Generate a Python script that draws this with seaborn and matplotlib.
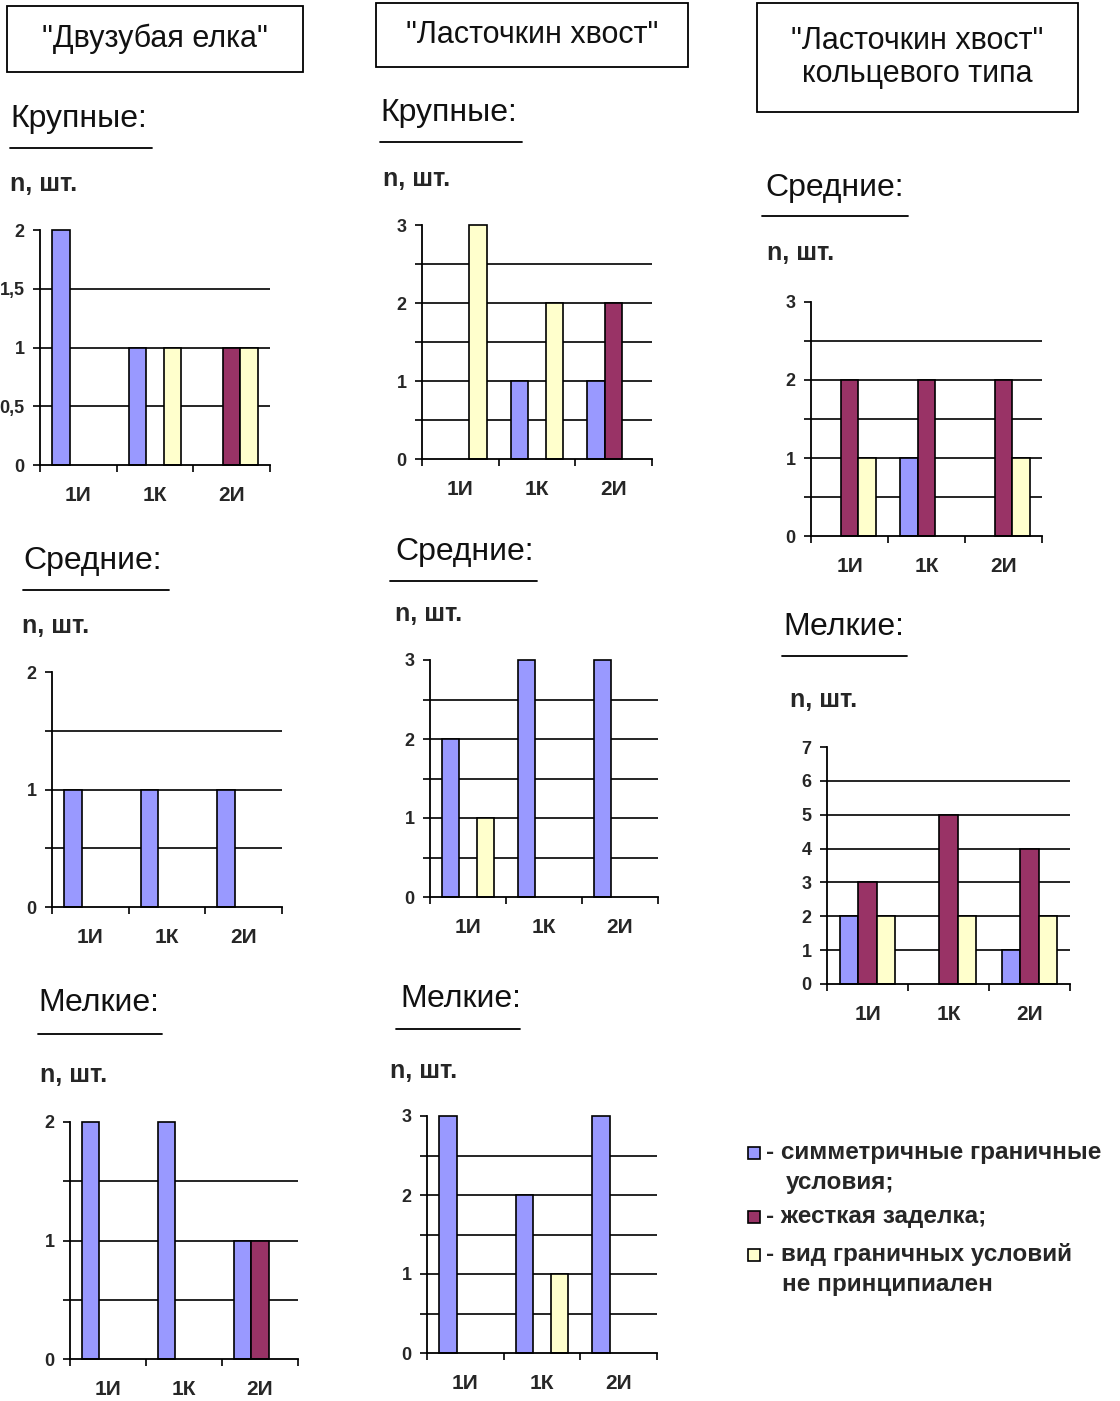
import numpy as np
import pandas as pd
import seaborn as sns
import matplotlib
matplotlib.use('Agg')
import matplotlib.pyplot as plt
from matplotlib.patches import Rectangle
from matplotlib.lines import Line2D
from matplotlib.font_manager import FontProperties

# categories on the x axis and the three kinds of boundary conditions
categories = ['1И', '1К', '2И']
kinds = ['sym', 'rigid', 'free']
kind_colors = {'sym': '#9999FF', 'rigid': '#993366', 'free': '#FFFFCC'}

# each panel: [sym, rigid, free], every list is [1И, 1К, 2И]
elka_large = [[2, 1, 0], [0, 0, 1], [0, 1, 1]]
elka_medium = [[1, 1, 1], [0, 0, 0], [0, 0, 0]]
elka_small = [[2, 2, 1], [0, 0, 1], [0, 0, 0]]
tail_large = [[0, 1, 1], [0, 0, 2], [3, 2, 0]]
tail_medium = [[2, 3, 3], [0, 0, 0], [1, 0, 0]]
tail_small = [[3, 2, 3], [0, 0, 0], [0, 1, 0]]
ring_medium = [[0, 1, 0], [2, 2, 2], [1, 0, 1]]
ring_small = [[2, 0, 1], [3, 5, 4], [2, 2, 2]]

legend_first = ['- симметричные граничные', '- жесткая заделка;', '- вид граничных условий']
legend_second = ['условия;', None, 'не принципиален']

sns.set_theme(style='white')
plt.rcParams['font.family'] = ['Liberation Sans', 'DejaVu Sans']

W, H = 1120, 1401
fig = plt.figure(figsize=(W / 100, H / 100), dpi=100)


def fx(x):
    return x / W


def fy(y):
    return 1 - y / H


tick_x_font = FontProperties(family='Liberation Sans', weight='bold', size=15)
tick_y_font = FontProperties(family='Liberation Sans', weight='bold', size=13)


def to_long(vals):
    rows = []
    for kind, series in zip(kinds, vals):
        for cat, v in zip(categories, series):
            if v > 0:
                rows.append({'cat': cat, 'kind': kind, 'n': v})
    return pd.DataFrame(rows)


def fmt(v):
    return ('%g' % v).replace('.', ',')


def draw_panel(vals, box, ymax, step, label_all=False):
    x0, ytop, x1, y0 = box
    ax = fig.add_axes([fx(x0), fy(y0), (x1 - x0) / W, (y0 - ytop) / H])
    ax.set_facecolor('none')
    sns.barplot(data=to_long(vals), x='cat', y='n', hue='kind', order=categories,
                hue_order=kinds, palette=kind_colors, width=0.69, saturation=1,
                dodge=True, edgecolor='black', linewidth=1.2, errorbar=None,
                legend=False, ax=ax)
    for p in ax.patches:
        p.set_clip_on(False)
        p.set_zorder(2)
    ax.set_xlim(-0.5, 2.5)
    ax.set_ylim(0, ymax)
    ax.set_xlabel('')
    ax.set_ylabel('')

    yt = np.arange(0, ymax + step / 2, step)
    ax.set_yticks(yt)
    ax.set_yticklabels([fmt(v) if (label_all or v == int(v)) else '' for v in yt])
    for v in yt[1:-1]:
        ax.axhline(v, color='black', lw=1.2, zorder=1)

    ax.set_xticks([-0.5, 0.5, 1.5, 2.5])
    ax.set_xticklabels([])
    ax.set_xticks([0, 1, 2], minor=True)
    ax.set_xticklabels(categories, minor=True)
    ax.tick_params(axis='x', which='major', length=5, width=1.2, direction='out',
                   bottom=True, color='black')
    ax.tick_params(axis='x', which='minor', length=0, pad=15, bottom=True)
    ax.tick_params(axis='y', which='major', length=5, width=1.2, direction='out',
                   left=True, pad=6, color='black')
    for lab in ax.get_xticklabels(minor=True):
        lab.set_fontproperties(tick_x_font)
    for lab in ax.get_yticklabels():
        lab.set_fontproperties(tick_y_font)

    for side in ['top', 'right']:
        ax.spines[side].set_visible(False)
    for side in ['left', 'bottom']:
        ax.spines[side].set_color('black')
        ax.spines[side].set_linewidth(1.3)
        ax.spines[side].set_zorder(3)
    return ax


def heading(text, x, y, x0, x1, ly):
    fig.text(fx(x), fy(y), text, fontsize=23, va='center', ha='left', color='#111111')
    fig.add_artist(Line2D([fx(x0), fx(x1)], [fy(ly), fy(ly)], color='black', lw=1.3))


def n_label(x, y):
    fig.text(fx(x), fy(y), 'n, шт.', fontsize=18, fontweight='bold', va='center', ha='left')


def title_box(x0, y0, x1, y1, text):
    fig.add_artist(Rectangle((fx(x0), fy(y1)), (x1 - x0) / W, (y1 - y0) / H, fill=False,
                             ec='black', lw=1.3, transform=fig.transFigure))
    fig.text(fx((x0 + x1) / 2), fy((y0 + y1) / 2), text, ha='center', va='center',
             fontsize=22, linespacing=1.1, color='#111111')


# column 1: "Двузубая елка"
title_box(7, 6, 303, 72, '"Двузубая елка"')
heading('Крупные:', 10, 119, 10, 152, 148)
n_label(10, 184)
draw_panel(elka_large, (40, 230, 270, 465), 2, 0.5, label_all=True)
heading('Средние:', 23, 561, 23, 169, 590)
n_label(22, 626)
draw_panel(elka_medium, (52, 672, 282, 907), 2, 0.5)
heading('Мелкие:', 38, 1003, 38, 162, 1034)
n_label(40, 1075)
draw_panel(elka_small, (70, 1122, 298, 1359), 2, 0.5)

# column 2: "Ласточкин хвост"
title_box(376, 3, 688, 67, '"Ласточкин хвост"')
heading('Крупные:', 380, 113, 380, 522, 142)
n_label(383, 179)
draw_panel(tail_large, (422, 225, 652, 459), 3, 0.5)
heading('Средние:', 395, 552, 390, 537, 581)
n_label(395, 614)
draw_panel(tail_medium, (430, 660, 658, 897), 3, 0.5)
heading('Мелкие:', 400, 999, 396, 520, 1029)
n_label(390, 1071)
draw_panel(tail_small, (427, 1116, 657, 1353), 3, 0.5)

# column 3: "Ласточкин хвост" кольцевого типа
title_box(757, 3, 1078, 112, '"Ласточкин хвост"\nкольцевого типа')
heading('Средние:', 765, 188, 762, 908, 216)
n_label(767, 253)
draw_panel(ring_medium, (811, 302, 1042, 536), 3, 0.5)
heading('Мелкие:', 783, 627, 782, 907, 656)
n_label(790, 700)
draw_panel(ring_small, (827, 747, 1070, 984), 7, 1)

# legend
legend_y = [1153, 1217, 1255]
legend_x2 = [786, None, 782]
for kind, first, second, y, x2 in zip(kinds, legend_first, legend_second, legend_y, legend_x2):
    fig.add_artist(Rectangle((fx(748), fy(y + 6)), 12 / W, 12 / H, fc=kind_colors[kind],
                             ec='black', lw=1.2, transform=fig.transFigure))
    fig.text(fx(766), fy(y), first, fontsize=17.5, fontweight='bold', va='center', ha='left')
    if second:
        fig.text(fx(x2), fy(y + 29), second, fontsize=17.5, fontweight='bold', va='center', ha='left')

fig.savefig('out.png', dpi=100)
